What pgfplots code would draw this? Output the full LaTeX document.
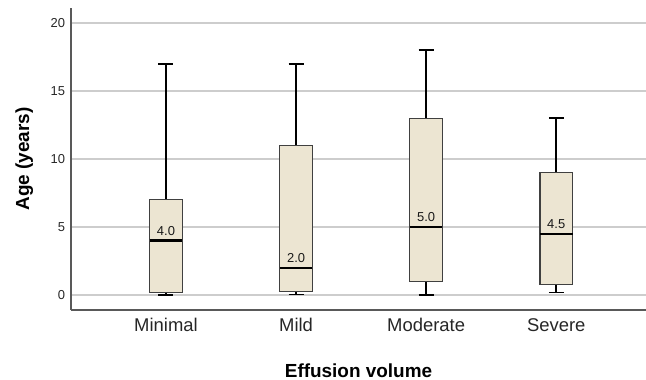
\documentclass[border=0pt]{standalone}
\usepackage{pgfplots}
\pgfplotsset{compat=1.18}
\usepgfplotslibrary{statistics}
\usepackage{fontspec}
\setmainfont{Liberation Sans}
\definecolor{boxfill}{RGB}{236,229,210}
\definecolor{gridc}{RGB}{205,205,205}
\begin{document}
\begin{tikzpicture}
\begin{axis}[
 at={(71bp,70bp)}, anchor=south west,
 scale only axis, width=575bp, height=302bp,
 xmin=-0.73, xmax=3.69, ymin=-1.1, ymax=21.1,
 axis x line*=bottom, axis y line*=left,
 axis line style={draw=black!65, line width=1.2bp},
 ymajorgrids, grid style={gridc, line width=1.2bp},
 ytick={0,5,10,15,20}, xtick={0,1,2,3},
 xticklabels={Minimal,Mild,Moderate,Severe},
 major tick length=0pt,
 /pgf/number format/assume math mode=true,
 yticklabel style={font=\fontsize{13}{15}\selectfont, color=black!85, xshift=-2.5bp},
 xticklabel style={font=\fontsize{18.5}{22}\selectfont, color=black!85, yshift=-5bp},
 xlabel={\textbf{Effusion volume}}, ylabel={\textbf{Age (years)}},
 xlabel style={at={(axis description cs:0.5,-0.222)}, anchor=base, font=\fontsize{19}{22}\selectfont},
 ylabel style={at={(axis description cs:-0.073,0.5)}, anchor=base, font=\fontsize{19}{22}\selectfont},
 boxplot/draw direction=y,
 boxplot/every median/.style={draw=black, line width=2.5bp},
 boxplot/every whisker/.style={draw=black, line width=1.5bp},
]
\addplot[boxplot prepared={draw position=0, median=4, upper quartile=7, lower quartile=0.2, upper whisker=17, lower whisker=0, box extend=0.25, whisker extend=0.115}, draw=black!75, fill=boxfill, line width=1.2bp] coordinates {};
\addplot[boxplot prepared={draw position=1, median=2, upper quartile=11, lower quartile=0.25, upper whisker=17, lower whisker=0.05, box extend=0.25, whisker extend=0.115}, draw=black!75, fill=boxfill, line width=1.2bp] coordinates {};
\addplot[boxplot prepared={draw position=2, median=5, upper quartile=13, lower quartile=1, upper whisker=18, lower whisker=0, box extend=0.25, whisker extend=0.115}, draw=black!75, fill=boxfill, line width=1.2bp] coordinates {};
\addplot[boxplot prepared={draw position=3, median=4.5, upper quartile=9, lower quartile=0.75, upper whisker=13, lower whisker=0.2, box extend=0.25, whisker extend=0.115}, draw=black!75, fill=boxfill, line width=1.2bp] coordinates {};
\addplot[only marks, mark=none, nodes near coords, point meta=explicit symbolic,
  nodes near coords style={font=\fontsize{13}{15}\selectfont, anchor=base, yshift=5.5bp, inner sep=0pt, color=black!90}]
  table[meta=label] {
x y label
0 4 4.0
1 2 2.0
2 5 5.0
3 4.5 4.5
};
\end{axis}
\pgfresetboundingbox
\path[use as bounding box] (0,0) rectangle (646bp,380bp);
\end{tikzpicture}
\end{document}
